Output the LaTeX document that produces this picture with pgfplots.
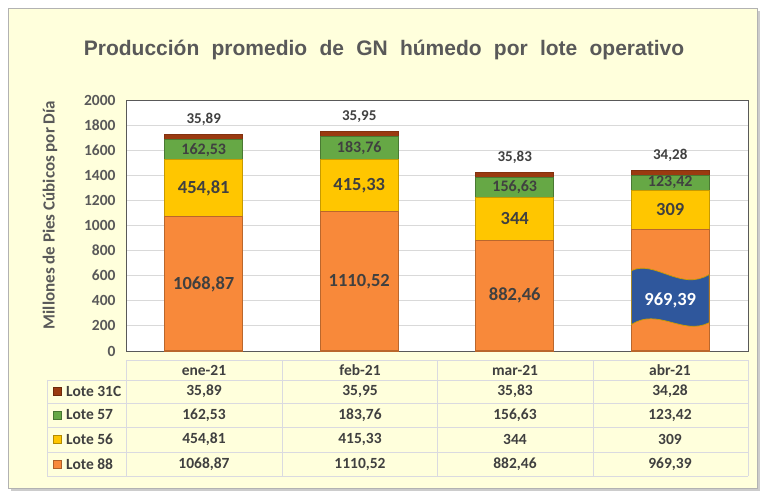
\documentclass[border=0pt]{standalone}
\usepackage{pgfplots}
\pgfplotsset{compat=1.18}
\usepackage{fontspec}
\setmainfont{Carlito}
\newfontfamily\titlefont[WordSpace=2.1]{Liberation Sans}
\definecolor{txt}{HTML}{595959}
\definecolor{dark}{HTML}{404040}
\definecolor{bg}{HTML}{FFFFDC}
\definecolor{c88}{HTML}{F8893A}
\definecolor{c56}{HTML}{FFC600}
\definecolor{c57}{HTML}{66A845}
\definecolor{c31}{HTML}{9A3A10}
\definecolor{wave}{HTML}{2F579C}
\definecolor{gridc}{HTML}{D9D9D9}
\definecolor{tabline}{HTML}{DADAE0}
\tikzset{
  lblbig/.style={font=\bfseries\fontsize{18.5}{20}\selectfont, text=dark},
  lblmid/.style={font=\bfseries\fontsize{16}{18}\selectfont, text=dark},
  lblsmall/.style={font=\bfseries\fontsize{15}{17}\selectfont, text=dark, anchor=south},
  tab/.style={font=\bfseries\fontsize{15.5}{17}\selectfont, text=dark},
}

\begin{document}
\begin{tikzpicture}[x=1pt,y=1pt]
% page and frame
\fill[white] (0,0) rectangle (764,492);
\fill[black!20] (11,1) rectangle (760,481);
\filldraw[fill=bg, draw=black!30] (8,4) rectangle (757,484);

\node[font=\titlefont\bfseries\fontsize{21}{24}\selectfont, text=txt] at (384,442)
  {Producción promedio de GN húmedo por lote operativo};
\node[rotate=90, font=\bfseries\fontsize{17}{19}\selectfont, text=txt] at (50,277)
  {Millones de Pies Cúbicos por Día};

\begin{axis}[
  at={(126pt,141pt)}, anchor=south west, scale only axis,
  width=622pt, height=251pt,
  ybar stacked, bar width=78pt,
  xmin=-0.5, xmax=3.5, ymin=0, ymax=2000,
  ytick={0,200,...,2000}, xtick=\empty,
  ymajorgrids, grid style={gridc, line width=0.8pt},
  axis line style={txt, line width=0.9pt},
  major tick length=0pt,
  axis background/.style={fill=white},
  yticklabel style={font=\bfseries\fontsize{15.5}{17}\selectfont, text=txt, xshift=-7pt},
  /pgf/number format/assume math mode=true,
  /pgf/number format/set thousands separator={},
  clip=false,
]
\addplot[fill=c88, draw=c88!75!black, line width=1.1pt] coordinates {(0,1068.87) (1,1110.52) (2,882.46) (3,969.39)};
\addplot[fill=c56, draw=c56!78!black, line width=1.1pt] coordinates {(0,454.81) (1,415.33) (2,344) (3,309)};
\addplot[fill=c57, draw=c57!72!black, line width=1.1pt] coordinates {(0,162.53) (1,183.76) (2,156.63) (3,123.42)};
\addplot[fill=c31, draw=c31!85!black, line width=1.1pt] coordinates {(0,35.89) (1,35.95) (2,35.83) (3,34.28)};

% anchors for labels (drawn after the bars)
\coordinate (a0) at (axis cs:0,534);   \coordinate (a1) at (axis cs:1,555);
\coordinate (a2) at (axis cs:2,441);   \coordinate (a3) at (axis cs:3,405);
\coordinate (b0) at (axis cs:0,1293);  \coordinate (b1) at (axis cs:1,1318);
\coordinate (b2) at (axis cs:2,1054);  \coordinate (b3) at (axis cs:3,1124);
\coordinate (g0) at (axis cs:0,1603);  \coordinate (g1) at (axis cs:1,1618);
\coordinate (g2) at (axis cs:2,1305);  \coordinate (g3) at (axis cs:3,1340);
\coordinate (t0) at (axis cs:0,1768);  \coordinate (t1) at (axis cs:1,1792);
\coordinate (t2) at (axis cs:2,1465);  \coordinate (t3) at (axis cs:3,1482);
% wave callout corners
\coordinate (w1) at (axis cs:2.75,640);  \coordinate (w1a) at (axis cs:2.9,730);
\coordinate (w1b) at (axis cs:3.07,470); \coordinate (w2) at (axis cs:3.25,610);
\coordinate (w3) at (axis cs:3.25,225);  \coordinate (w3a) at (axis cs:3.08,120);
\coordinate (w3b) at (axis cs:2.92,350); \coordinate (w4) at (axis cs:2.75,210);
\end{axis}

\draw[fill=wave, draw=c56!80!black, line width=0.7pt]
  (w1) .. controls (w1a) and (w1b) .. (w2) -- (w3) .. controls (w3a) and (w3b) .. (w4) -- cycle;

\node[lblbig] at (a0) {1068,87};
\node[lblbig] at (a1) {1110,52};
\node[lblbig] at (a2) {882,46};
\node[lblbig, text=white] at (a3) {969,39};
\node[lblbig] at (b0) {454,81};
\node[lblbig] at (b1) {415,33};
\node[lblbig] at (b2) {344};
\node[lblbig] at (b3) {309};
\node[lblmid] at (g0) {162,53};
\node[lblmid] at (g1) {183,76};
\node[lblmid] at (g2) {156,63};
\node[lblmid] at (g3) {123,42};
\node[lblsmall] at (t0) {35,89};
\node[lblsmall] at (t1) {35,95};
\node[lblsmall] at (t2) {35,83};
\node[lblsmall] at (t3) {34,28};

% data table
\draw[tabline, line width=0.9pt] (126,132) -- (748,132);
\foreach \y in {112,89,65,40,16} \draw[tabline, line width=0.9pt] (47,\y) -- (748,\y);
\draw[tabline, line width=0.9pt] (47,112) -- (47,16);
\foreach \x in {126,282,437,593,748} \draw[tabline, line width=0.9pt] (\x,132) -- (\x,16);

\node[tab] at (204,122) {ene-21};
\node[tab] at (360,122) {feb-21};
\node[tab] at (515,122) {mar-21};
\node[tab] at (670,122) {abr-21};

\foreach \yy/\lab/\col in {100.5/Lote 31C/c31, 77/Lote 57/c57, 52.5/Lote 56/c56, 28/Lote 88/c88} {
  \filldraw[fill=\col, draw=\col!70!black, line width=0.6pt] (53,\yy-4) rectangle (61,\yy+4);
  \node[tab, anchor=west, inner sep=0pt] at (66,\yy) {\lab};
}
\node[tab] at (204,100.5) {35,89};  \node[tab] at (360,100.5) {35,95};  \node[tab] at (515,100.5) {35,83};  \node[tab] at (670,100.5) {34,28};
\node[tab] at (204,77) {162,53};    \node[tab] at (360,77) {183,76};    \node[tab] at (515,77) {156,63};    \node[tab] at (670,77) {123,42};
\node[tab] at (204,52.5) {454,81};  \node[tab] at (360,52.5) {415,33};  \node[tab] at (515,52.5) {344};     \node[tab] at (670,52.5) {309};
\node[tab] at (204,28) {1068,87};   \node[tab] at (360,28) {1110,52};   \node[tab] at (515,28) {882,46};    \node[tab] at (670,28) {969,39};
\end{tikzpicture}
\end{document}
